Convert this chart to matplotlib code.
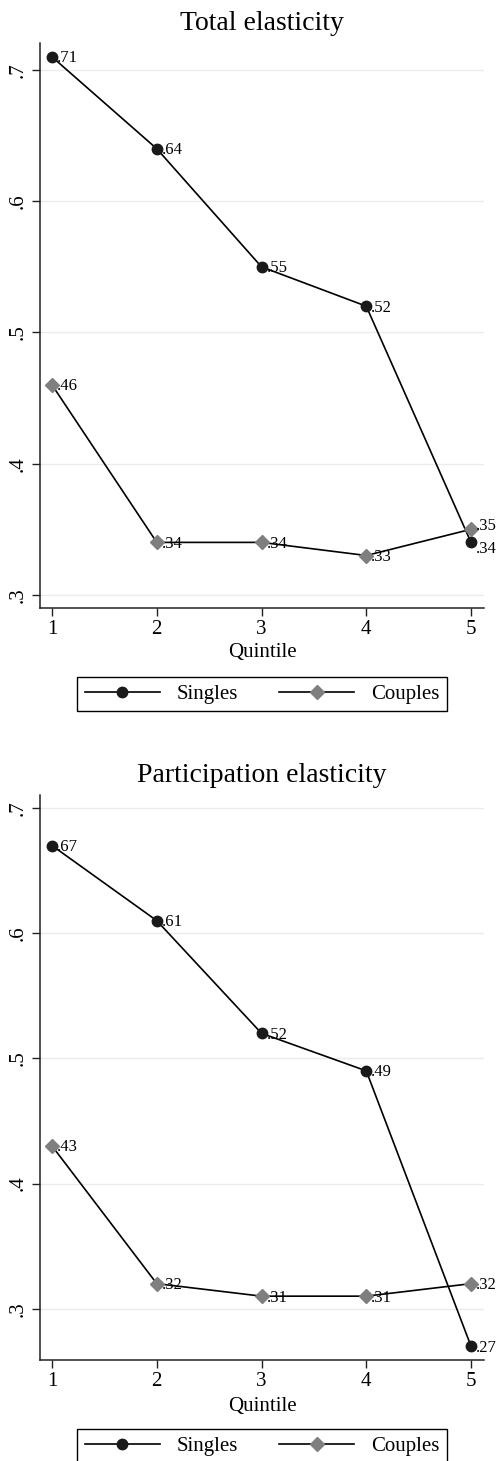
import matplotlib
matplotlib.use("Agg")
import matplotlib.pyplot as plt
from matplotlib.lines import Line2D

plt.rcParams['font.family'] = ['Liberation Serif', 'DejaVu Serif']

quintiles = [1, 2, 3, 4, 5]
titles = ["Total elasticity", "Participation elasticity"]
singles_total = [0.71, 0.64, 0.55, 0.52, 0.34]
couples_total = [0.46, 0.34, 0.34, 0.33, 0.35]
singles_part = [0.67, 0.61, 0.52, 0.49, 0.27]
couples_part = [0.43, 0.32, 0.31, 0.31, 0.32]
ytick_vals = [0.3, 0.4, 0.5, 0.6, 0.7]
ytick_labels = [".3", ".4", ".5", ".6", ".7"]
ylims = [(0.290, 0.7206), (0.259, 0.7104)]

W, H = 500, 1461
fig = plt.figure(figsize=(W / 100, H / 100), dpi=100)
fig.patch.set_facecolor('white')

def fy(px):
    return 1 - px / H

panels = [
    dict(top=43, bottom=608, singles=singles_total, couples=couples_total,
         title=titles[0], title_y=24, xlabel_y=653, legend_y=694, ylim=ylims[0]),
    dict(top=795, bottom=1360, singles=singles_part, couples=couples_part,
         title=titles[1], title_y=776, xlabel_y=1406, legend_y=1446, ylim=ylims[1]),
]

def fmt(v):
    return ("%.2f" % v).lstrip("0")

for p in panels:
    left, right = 40, 484
    ax = fig.add_axes([left / W, fy(p['bottom']), (right - left) / W, (p['bottom'] - p['top']) / H])
    ax.set_xlim(0.885, 5.124)
    ax.set_ylim(*p['ylim'])
    for s in ['top', 'right']:
        ax.spines[s].set_visible(False)
    for s in ['left', 'bottom']:
        ax.spines[s].set_color('#222222')
        ax.spines[s].set_linewidth(1.1)
    ax.set_yticks(ytick_vals)
    ax.set_yticklabels(ytick_labels, rotation=90, va='center', fontsize=15)
    ax.set_xticks(quintiles)
    ax.set_xticklabels([str(q) for q in quintiles], fontsize=15)
    ax.tick_params(axis='both', direction='out', length=6, width=1.0, color='#222222', pad=3)
    ax.grid(axis='y', color='#ebebeb', linewidth=1.0)
    ax.set_axisbelow(True)
    ax.plot(quintiles, p['singles'], color='black', linewidth=1.2, marker='o',
            markersize=7.5, markerfacecolor='#1a1a1a', markeredgecolor='#1a1a1a', zorder=3)
    ax.plot(quintiles, p['couples'], color='black', linewidth=1.2, marker='D',
            markersize=7.5, markerfacecolor='#7f7f7f', markeredgecolor='#7f7f7f', zorder=3)
    for i, x in enumerate(quintiles):
        ys, yc = p['singles'][i], p['couples'][i]
        ds, dc = -1, -1
        if abs(ys - yc) < 0.025:
            if ys > yc:
                ds, dc = 2.5, -4.5
            else:
                ds, dc = -4.5, 2.5
        for y, d in [(ys, ds), (yc, dc)]:
            ax.annotate(fmt(y), (x, y), xytext=(3.5, d), textcoords='offset points',
                        ha='left', va='center', fontsize=12, zorder=4)
    fig.text(262 / W, fy(p['title_y']), p['title'], ha='center', va='center', fontsize=20)
    fig.text(262 / W, fy(p['xlabel_y']), "Quintile", ha='center', va='center', fontsize=15)
    handles = [
        Line2D([], [], color='black', linewidth=1.2, marker='o', markersize=7.5,
               markerfacecolor='#1a1a1a', markeredgecolor='#1a1a1a'),
        Line2D([], [], color='black', linewidth=1.2, marker='D', markersize=7.5,
               markerfacecolor='#7f7f7f', markeredgecolor='#7f7f7f'),
    ]
    leg = fig.legend(handles, ["Singles", "Couples"], ncol=2, loc='center',
                     bbox_to_anchor=(262 / W, fy(p['legend_y'])), fontsize=15,
                     frameon=True, fancybox=False, edgecolor='black', framealpha=1,
                     handlelength=3.6, handletextpad=0.8, columnspacing=2.0,
                     borderpad=0.35, borderaxespad=0)
    leg.get_frame().set_linewidth(1.0)

fig.savefig("out.png", dpi=100)
